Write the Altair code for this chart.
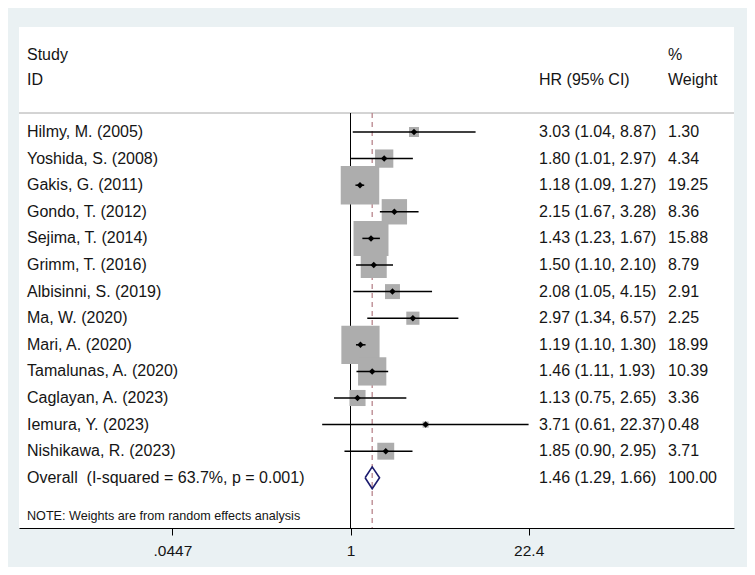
import altair as alt
import pandas as pd

# ---- data ----
studies = ["Hilmy, M. (2005)", "Yoshida, S. (2008)", "Gakis, G. (2011)", "Gondo, T. (2012)",
           "Sejima, T. (2014)", "Grimm, T. (2016)", "Albisinni, S. (2019)", "Ma, W. (2020)",
           "Mari, A. (2020)", "Tamalunas, A. (2020)", "Caglayan, A. (2023)", "Iemura, Y. (2023)",
           "Nishikawa, R. (2023)"]
hr = [3.03, 1.80, 1.18, 2.15, 1.43, 1.50, 2.08, 2.97, 1.19, 1.46, 1.13, 3.71, 1.85]
lower = [1.04, 1.01, 1.09, 1.67, 1.23, 1.10, 1.05, 1.34, 1.10, 1.11, 0.75, 0.61, 0.90]
upper = [8.87, 2.97, 1.27, 3.28, 1.67, 2.10, 4.15, 6.57, 1.30, 1.93, 2.65, 22.37, 2.95]
weights = [1.30, 4.34, 19.25, 8.36, 15.88, 8.79, 2.91, 2.25, 18.99, 10.39, 3.36, 0.48, 3.71]

overall_label = "Overall\u00a0 (I-squared = 63.7%, p = 0.001)"
overall_hr = 1.46
overall_lower = 1.29
overall_upper = 1.66
overall_weight = 100.00

note_text = "NOTE: Weights are from random effects analysis"
tick_values = [0.0447, 1, 22.4]
tick_labels = [".0447", "1", "22.4"]

# ---- tables ----
n = len(studies)
rows = pd.DataFrame({
    "study": studies,
    "hr": hr,
    "lower": lower,
    "upper": upper,
    "weight": weights,
    "row": list(range(n)),
})
rows["hr_txt"] = [f"{h:.2f} ({l:.2f}, {u:.2f})" for h, l, u in zip(hr, lower, upper)]
rows["w_txt"] = [f"{w:.2f}" for w in weights]

ov_row = n
label_df = pd.DataFrame({
    "study": studies + [overall_label],
    "hr_txt": list(rows["hr_txt"]) + [f"{overall_hr:.2f} ({overall_lower:.2f}, {overall_upper:.2f})"],
    "w_txt": list(rows["w_txt"]) + [f"{overall_weight:.2f}"],
    "row": list(range(n + 1)),
})

half_h = 0.41
diamond = pd.DataFrame({
    "x": [overall_lower, overall_hr, overall_upper, overall_hr, overall_lower],
    "y": [ov_row, ov_row - half_h, ov_row, ov_row + half_h, ov_row],
    "o": [0, 1, 2, 3, 4],
})

Y_TOP, Y_BOT = -3.947, 14.887
SEP = -0.714

xscale = alt.Scale(type="log", domain=[0.003073, 806.3], nice=False)
yscale = alt.Scale(domain=[Y_TOP, Y_BOT], reverse=True, nice=False, zero=False)

label_expr = " : ".join(
    f"datum.value > {v*0.999} && datum.value < {v*1.001} ? '{t}'" for v, t in zip(tick_values, tick_labels)
) + " : ''"

FONT = "Liberation Sans"
FS = 16
TXT = "#151515"

base = alt.Chart(rows)

# x axis carrier (invisible points)
axis_layer = alt.Chart(pd.DataFrame({"x": tick_values})).mark_point(opacity=0).encode(
    x=alt.X("x:Q", scale=xscale,
            axis=alt.Axis(values=tick_values, labelExpr=label_expr, title=None, grid=False,
                          tickSize=7, tickColor="black", domainColor="black", labelColor=TXT,
                          labelFont=FONT, labelFontSize=15.5, labelPadding=8, domainWidth=1)),
    y=alt.Y("x:Q", scale=alt.Scale(domain=[Y_TOP, Y_BOT]), axis=None),
)

sep_line = alt.Chart(pd.DataFrame({"y": [SEP]})).mark_rule(color="#A8A8A8", strokeWidth=1).encode(
    y=alt.Y("y:Q", scale=yscale, axis=None)
)

null_line = alt.Chart(pd.DataFrame({"x": [1], "y": [SEP], "y2": [Y_BOT]})).mark_rule(
    color="black", strokeWidth=1).encode(
    x=alt.X("x:Q", scale=xscale), y=alt.Y("y:Q", scale=yscale, axis=None), y2="y2:Q"
)

ov_line = alt.Chart(pd.DataFrame({"x": [overall_hr], "y": [SEP], "y2": [Y_BOT]})).mark_rule(
    color="#B8858C", strokeWidth=1.3, strokeDash=[5, 4]).encode(
    x=alt.X("x:Q", scale=xscale), y=alt.Y("y:Q", scale=yscale, axis=None), y2="y2:Q"
)

squares = base.mark_square(color="#ADADAD", opacity=1, filled=True).encode(
    x=alt.X("hr:Q", scale=xscale),
    y=alt.Y("row:Q", scale=yscale, axis=None),
    size=alt.Size("weight:Q", scale=alt.Scale(domain=[0, 19.25], range=[0, 1482]), legend=None),
)

ci = base.mark_rule(color="black", strokeWidth=1.5).encode(
    x=alt.X("lower:Q", scale=xscale), x2="upper:Q",
    y=alt.Y("row:Q", scale=yscale, axis=None),
)

pts = base.mark_point(shape="diamond", filled=True, color="black", size=42, opacity=1).encode(
    x=alt.X("hr:Q", scale=xscale),
    y=alt.Y("row:Q", scale=yscale, axis=None),
)

dia = alt.Chart(diamond).mark_line(color="#1B1B6E", strokeWidth=1.6).encode(
    x=alt.X("x:Q", scale=xscale),
    y=alt.Y("y:Q", scale=yscale, axis=None),
    order="o:Q",
)

lab = alt.Chart(label_df)
study_txt = lab.mark_text(align="left", baseline="middle", font=FONT, fontSize=FS, color=TXT).encode(
    x=alt.value(8), y=alt.Y("row:Q", scale=yscale, axis=None), text="study:N")
hr_txt = lab.mark_text(align="left", baseline="middle", font=FONT, fontSize=FS, color=TXT).encode(
    x=alt.value(520), y=alt.Y("row:Q", scale=yscale, axis=None), text="hr_txt:N")
w_txt = lab.mark_text(align="left", baseline="middle", font=FONT, fontSize=FS, color=TXT).encode(
    x=alt.value(649), y=alt.Y("row:Q", scale=yscale, axis=None), text="w_txt:N")

headers = pd.DataFrame({
    "t": ["Study", "ID", "HR (95% CI)", "%", "Weight"],
    "y": [-2.895, -1.955, -1.955, -2.895, -1.955],
    "px": [8, 8, 520, 649, 649],
})
hdr = alt.Chart(headers).mark_text(align="left", baseline="middle", font=FONT, fontSize=FS, color=TXT).encode(
    x=alt.X("px:Q", scale=None), y=alt.Y("y:Q", scale=yscale, axis=None), text="t:N")

note = alt.Chart(pd.DataFrame({"t": [note_text], "y": [14.436]})).mark_text(
    align="left", baseline="middle", font=FONT, fontSize=12.6, color=TXT).encode(
    x=alt.value(8), y=alt.Y("y:Q", scale=yscale, axis=None), text="t:N")

chart = alt.layer(
    axis_layer, sep_line, null_line, ov_line, squares, ci, pts, dia,
    study_txt, hr_txt, w_txt, hdr, note
).properties(
    width=715, height=501,
    autosize=alt.AutoSizeParams(type="none"),
    padding={"left": 11, "top": 19, "right": 13, "bottom": 39},
    background="#EAF1F3",
).configure_view(fill="white", stroke=None)

chart.save("out.html", embed_options={"renderer": "svg", "actions": False})
